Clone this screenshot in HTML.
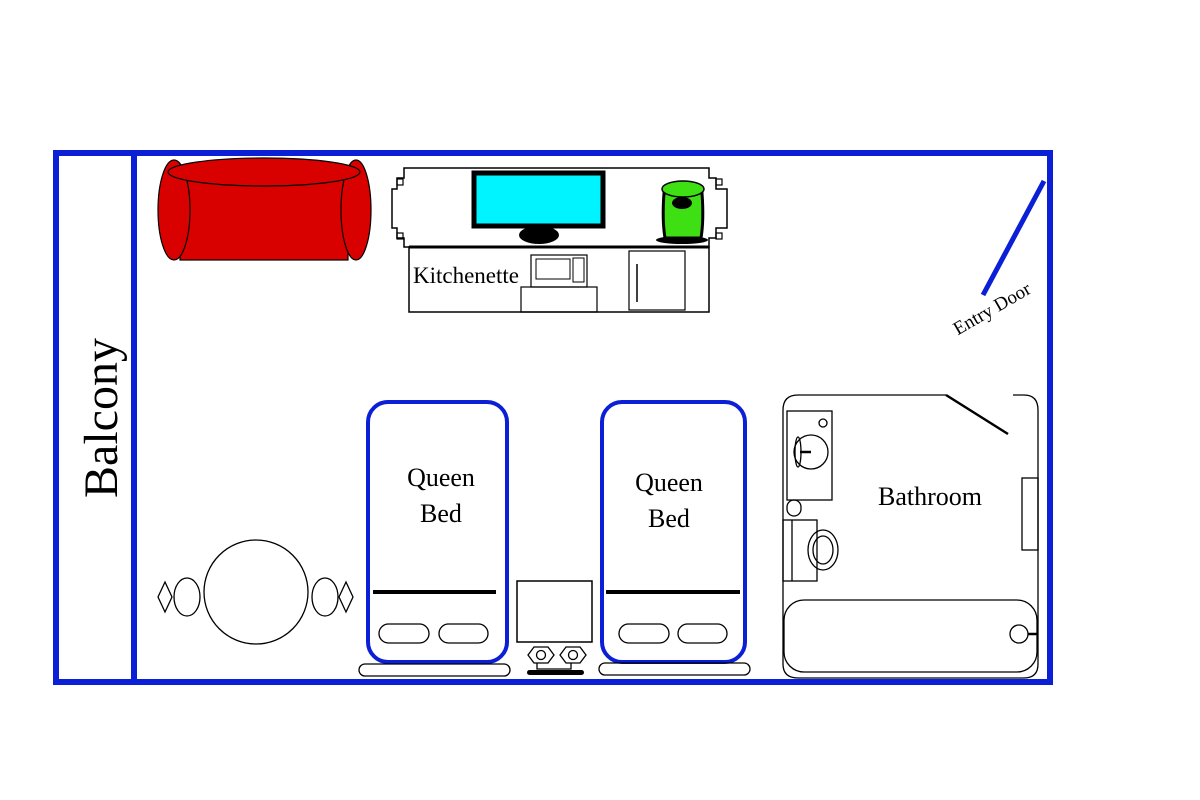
<!DOCTYPE html>
<html><head><meta charset="utf-8"><style>body{margin:0;background:#fff}svg{display:block}text{font-family:"Liberation Serif",serif;fill:#000}</style></head>
<body>
<svg width="1200" height="800" viewBox="0 0 1200 800" xmlns="http://www.w3.org/2000/svg">
<rect width="1200" height="800" fill="#fff"/>
<rect x="56" y="153" width="994" height="529" fill="none" stroke="#0b1fd6" stroke-width="6"/>
<line x1="134" y1="153" x2="134" y2="682" stroke="#0b1fd6" stroke-width="6"/>
<text x="0" y="0" font-size="48" transform="translate(117,418) rotate(-90)" text-anchor="middle">Balcony</text>
<g fill="#d90000" stroke="#000" stroke-width="1.2">
<rect x="180" y="170" width="168" height="90"/>
<ellipse cx="174" cy="210" rx="16" ry="50"/>
<ellipse cx="356" cy="210" rx="15" ry="50"/>
<ellipse cx="264" cy="172" rx="96" ry="14"/>
</g>
<path d="M404 168 H709 V178 H716 V189 H727 V228 H716 V238 H709 V247 H404 V238 H397 V228 H392 V189 H397 V178 H404 Z" fill="none" stroke="#000" stroke-width="1.5"/>
<g fill="none" stroke="#000" stroke-width="1.2">
<rect x="397" y="179" width="6" height="6"/><rect x="716" y="179" width="6" height="6"/>
<rect x="397" y="233" width="6" height="6"/><rect x="716" y="233" width="6" height="6"/>
</g>
<rect x="409" y="247" width="300" height="65" fill="none" stroke="#000" stroke-width="1.5"/>
<line x1="409" y1="247" x2="709" y2="247" stroke="#000" stroke-width="3"/>
<text x="413" y="283" font-size="23">Kitchenette</text>
<rect x="531" y="255" width="56" height="32" fill="none" stroke="#000" stroke-width="1.2"/>
<rect x="536" y="259" width="34" height="20" fill="none" stroke="#000" stroke-width="1"/>
<rect x="573" y="258" width="11" height="24" fill="none" stroke="#000" stroke-width="1"/>
<rect x="521" y="287" width="76" height="25" fill="none" stroke="#000" stroke-width="1.2"/>
<rect x="629" y="251" width="56" height="59" fill="none" stroke="#000" stroke-width="1.2"/>
<line x1="637" y1="264" x2="637" y2="302" stroke="#000" stroke-width="1.5"/>
<rect x="474" y="173" width="129" height="53" fill="#00f4ff" stroke="#000" stroke-width="5"/>
<ellipse cx="539" cy="235" rx="20" ry="9" fill="#000"/>
<ellipse cx="682" cy="240" rx="26" ry="4" fill="#000"/>
<path d="M664 193 Q662 220 665 238 H701 Q704 220 702 193 Z" fill="#3ee013" stroke="#000" stroke-width="3"/>
<ellipse cx="683" cy="189" rx="21" ry="8" fill="#3ee013" stroke="#000" stroke-width="1.5"/>
<ellipse cx="682" cy="203" rx="10" ry="6" fill="#000"/>
<line x1="1044" y1="181" x2="983" y2="295" stroke="#0b1fd6" stroke-width="5"/>
<text x="0" y="0" font-size="19" transform="translate(995,314) rotate(-30)" text-anchor="middle">Entry Door</text>
<g fill="none" stroke="#0b1fd6" stroke-width="4">
<rect x="368" y="402" width="139" height="260" rx="20"/>
<rect x="602" y="402" width="143" height="260" rx="20"/>
</g>
<text x="441" y="486" font-size="26" text-anchor="middle">Queen</text>
<text x="441" y="522" font-size="26" text-anchor="middle">Bed</text>
<text x="669" y="491" font-size="26" text-anchor="middle">Queen</text>
<text x="669" y="527" font-size="26" text-anchor="middle">Bed</text>
<line x1="373" y1="592" x2="496" y2="592" stroke="#000" stroke-width="4"/>
<line x1="606" y1="592" x2="740" y2="592" stroke="#000" stroke-width="4"/>
<g fill="none" stroke="#000" stroke-width="1.3">
<rect x="379" y="624" width="50" height="19" rx="9.5"/><rect x="439" y="624" width="49" height="19" rx="9.5"/>
<rect x="619" y="624" width="50" height="19" rx="9.5"/><rect x="678" y="624" width="49" height="19" rx="9.5"/>
<rect x="359" y="664" width="151" height="12" rx="6"/><rect x="599" y="663" width="151" height="12" rx="6"/>
<rect x="517" y="581" width="75" height="61" stroke-width="1.5"/>
<path d="M528 655 L534 647 H548 L554 655 L548 663 H534 Z"/><circle cx="541" cy="655" r="4.5"/>
<path d="M560 655 L566 647 H580 L586 655 L580 663 H566 Z"/><circle cx="573" cy="655" r="4.5"/>
<path d="M537 663 V669 H571 V663"/>
</g>
<rect x="527" y="670" width="57" height="5" rx="2.5" fill="#000"/>
<g fill="none" stroke="#000" stroke-width="1.3">
<circle cx="256" cy="592" r="52"/>
<ellipse cx="187" cy="597" rx="13" ry="19"/><ellipse cx="325" cy="597" rx="13" ry="19"/>
<path d="M165 582 L172 597 L165 612 L158 597 Z"/><path d="M346 582 L353 597 L346 612 L339 597 Z"/>
</g>
<g fill="none" stroke="#000" stroke-width="1.3">
<path d="M946 395 H798 Q783 395 783 410 V664 Q783 678 798 678 H1024 Q1038 678 1038 664 V410 Q1038 395 1024 395 H1013"/>
<rect x="787" y="411" width="45" height="89"/>
<circle cx="811" cy="452" r="17"/>
<ellipse cx="798" cy="452" rx="3" ry="15"/>
<circle cx="823" cy="423" r="4"/>
<rect x="787" y="500" width="14" height="16" rx="7"/>
<rect x="783" y="520" width="34" height="61"/><line x1="792" y1="520" x2="792" y2="581"/>
<ellipse cx="823" cy="550" rx="15" ry="20"/><ellipse cx="823" cy="550" rx="10" ry="14"/>
<rect x="1022" y="478" width="16" height="72"/>
<rect x="784" y="600" width="253" height="72" rx="20"/>
<circle cx="1019" cy="634" r="9"/>
</g>
<line x1="946" y1="395" x2="1008" y2="434" stroke="#000" stroke-width="2.5"/>
<line x1="800" y1="452" x2="811" y2="452" stroke="#000" stroke-width="2.5"/>
<line x1="1028" y1="634" x2="1038" y2="634" stroke="#000" stroke-width="2.5"/>
<text x="930" y="505" font-size="26" text-anchor="middle">Bathroom</text>
</svg>
</body></html>
